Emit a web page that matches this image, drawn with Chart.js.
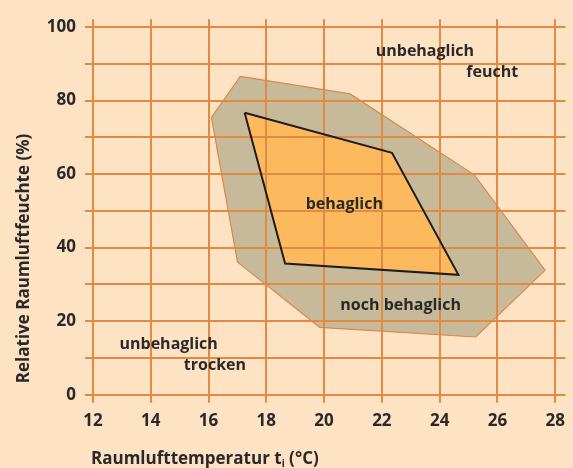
<!DOCTYPE html>
<html><head><meta charset="utf-8">
<script src="https://cdn.jsdelivr.net/npm/chart.js@4/dist/chart.umd.min.js"></script>
<style>
html,body{margin:0;padding:0;background:#FDE3C3;}
#wrap{width:573px;height:468px;position:relative;}
</style></head><body>
<div id="wrap"><canvas id="c"></canvas></div>
<script>
const xTickValues = [12, 14, 16, 18, 20, 22, 24, 26, 28];
const yTickValues = [0, 10, 20, 30, 40, 50, 60, 70, 80, 90, 100];
const yTickLabels = ['0', '', '20', '', '40', '', '60', '', '80', '', '100'];

const outerTemp = [17.1, 20.9, 25.2, 27.65, 25.25, 19.85, 17.0, 16.1, 17.1];
const outerHum  = [86.6, 81.8, 59.8, 33.9, 15.7, 18.3, 36.1, 75.4, 86.6];
const innerTemp = [17.25, 22.35, 24.65, 18.65, 17.25];
const innerHum  = [76.7, 65.8, 32.6, 35.7, 76.7];

const regionLabels    = ['unbehaglich', 'feucht', 'behaglich', 'noch behaglich', 'unbehaglich', 'trocken'];
const regionLabelTemp = [23.49, 25.82, 20.70, 22.65, 14.62, 16.22];
const regionLabelHum  = [92.0, 86.5, 50.6, 23.06, 12.4, 6.6];

const xTitleParts = ['Raumlufttemperatur t', 'i', ' (°C)'];
const yTitle = 'Relative Raumluftfeuchte (%)';

const TEXT = '#2A2828';
const GRID = '#E08A42';
const tickFont = { family: '"Open Sans"', weight: 'bold', size: 17 };

const polygonFill = {
  id: 'polygonFill',
  beforeDraw(chart) {
    const ctx = chart.ctx, a = chart.chartArea;
    ctx.save();
    ctx.beginPath(); ctx.rect(a.left, a.top, a.width, a.height); ctx.clip();
    const metas = chart.getSortedVisibleDatasetMetas();
    for (let i = metas.length - 1; i >= 0; i--) {
      const m = metas[i];
      const ds = chart.data.datasets[m.index];
      ctx.beginPath();
      m.data.forEach((p, j) => j ? ctx.lineTo(p.x, p.y) : ctx.moveTo(p.x, p.y));
      ctx.closePath();
      ctx.fillStyle = ds.backgroundColor;
      ctx.fill();
    }
    ctx.restore();
  }
};

const textLayer = {
  id: 'textLayer',
  afterDraw(chart) {
    const ctx = chart.ctx, a = chart.chartArea;
    const xs = chart.scales.x, ys = chart.scales.y;
    ctx.save();
    ctx.fillStyle = TEXT;
    ctx.font = 'bold 16px "Open Sans"';
    ctx.textAlign = 'center';
    ctx.textBaseline = 'alphabetic';
    regionLabels.forEach((t, i) => {
      ctx.fillText(t, xs.getPixelForValue(regionLabelTemp[i]), ys.getPixelForValue(regionLabelHum[i]));
    });
    // x axis title
    ctx.textAlign = 'left';
    let x = a.left - 2;
    const yb = a.bottom + 69;
    ctx.font = 'bold 17px "Open Sans"';
    ctx.fillText(xTitleParts[0], x, yb);
    x += ctx.measureText(xTitleParts[0]).width;
    ctx.font = 'bold 10px "Open Sans"';
    ctx.fillText(xTitleParts[1], x, yb + 3);
    x += ctx.measureText(xTitleParts[1]).width;
    ctx.font = 'bold 17px "Open Sans"';
    ctx.fillText(xTitleParts[2], x, yb);
    // y axis title
    ctx.translate(29.3, a.bottom - 11.5);
    ctx.rotate(-Math.PI / 2);
    ctx.textAlign = 'left';
    ctx.fillText(yTitle, 0, 0);
    ctx.restore();
  }
};

new Chart(document.getElementById('c'), {
  type: 'scatter',
  data: {
    datasets: [
      {
        data: outerTemp.map((t, i) => ({ x: t, y: outerHum[i] })),
        showLine: true, fill: false, tension: 0,
        borderColor: '#DC8848', borderWidth: 1.2,
        backgroundColor: '#C7BA9B',
        pointRadius: 0, order: 2
      },
      {
        data: innerTemp.map((t, i) => ({ x: t, y: innerHum[i] })),
        showLine: true, fill: false, tension: 0,
        borderColor: '#1E1C1C', borderWidth: 2,
        backgroundColor: '#FDB95E',
        pointRadius: 0, order: 1
      }
    ]
  },
  options: {
    responsive: true,
    maintainAspectRatio: false,
    animation: false,
    events: [],
    layout: { padding: { top: 12, right: 4.5, left: 0, bottom: 0 } },
    plugins: { legend: { display: false }, tooltip: { enabled: false } },
    scales: {
      x: {
        type: 'linear', min: 12, max: 28.36,
        afterBuildTicks: s => { s.ticks = xTickValues.map(v => ({ value: v })); },
        afterFit: s => { s.height = 73.3; },
        grid: { color: GRID, lineWidth: 2, tickLength: 8, drawTicks: true },
        border: { display: false },
        ticks: { autoSkip: false, maxRotation: 0, padding: 8, font: tickFont, color: TEXT,
                 callback: (v, i) => String(xTickValues[i]) }
      },
      y: {
        type: 'linear', min: 0, max: 102.13,
        afterBuildTicks: s => { s.ticks = yTickValues.map(v => ({ value: v })); },
        afterFit: s => { s.width = 93; },
        grid: { color: GRID, lineWidth: 2, tickLength: 8, drawTicks: true },
        border: { display: false },
        ticks: { padding: 9, font: tickFont, color: TEXT,
                 callback: (v, i) => yTickLabels[i] }
      }
    }
  },
  plugins: [polygonFill, textLayer]
});
</script>
</body></html>
